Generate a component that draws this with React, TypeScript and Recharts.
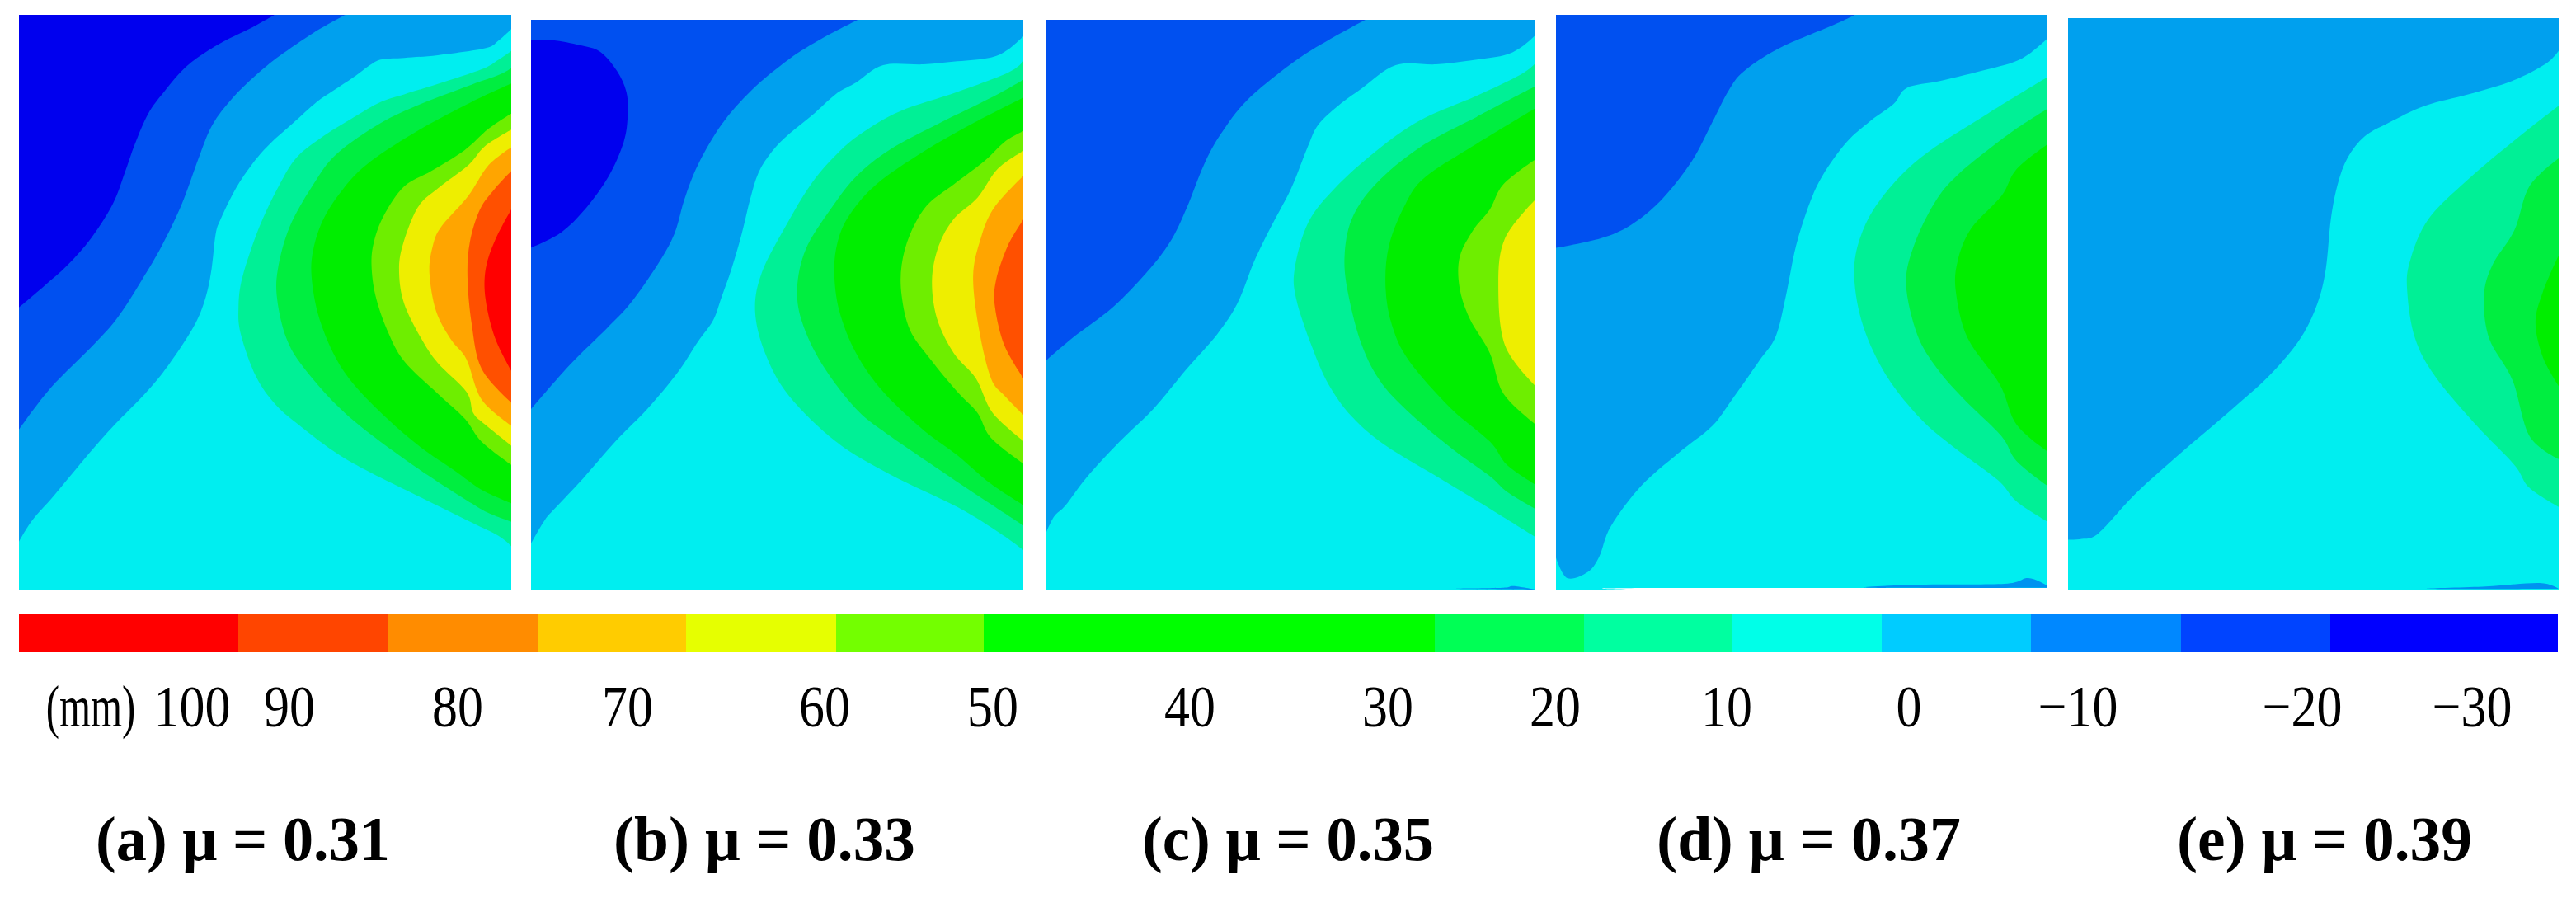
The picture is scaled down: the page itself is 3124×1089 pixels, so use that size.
import { Bar, BarChart, Scatter, ScatterChart, XAxis, YAxis } from "recharts";

// contour levels, low to high, same colours as the FE post-processor output
const LEVEL_COLORS: Record<string, string> = {
  base: "#00EEF0",
  m10: "#00A0EE",
  m20: "#0050F0",
  m30: "#0000EE",
  low: "#0092F0",
  p10: "#00F096",
  p20: "#00EE40",
  p30: "#00EE00",
  p50: "#6EEE00",
  p60: "#EEEE00",
  p70: "#FFA500",
  p80: "#FF5000",
  p90: "#FF0000",
  gap: "#FFFFFF",
};

type Pt = [number, number];
type Contour = { level: string; pts: Pt[] };

// contours are read in mesh units, painted back to front
const contoursA: Contour[] = [
  { level: "m10", pts: [[1518, 38], [1518, 75], [1480, 105], [1440, 125], [1300, 143], [1200, 150], [1140, 153], [1105, 165], [1050, 200], [990, 235], [940, 265], [870, 320], [800, 375], [750, 425], [700, 490], [655, 570], [640, 610], [628, 700], [610, 775], [575, 850], [500, 950], [430, 1025], [330, 1115], [250, 1195], [160, 1290], [95, 1355], [56, 1410], [56, 38]] },
  { level: "m20", pts: [[1025, 38], [930, 85], [830, 145], [760, 195], [690, 255], [630, 325], [590, 410], [540, 530], [480, 640], [420, 730], [350, 825], [280, 895], [150, 1010], [56, 1118], [56, 38]] },
  { level: "m30", pts: [[815, 38], [750, 70], [680, 100], [620, 130], [550, 175], [490, 235], [440, 295], [400, 375], [370, 450], [335, 530], [270, 620], [200, 690], [130, 745], [56, 800], [56, 38]] },
  { level: "p10", pts: [[1518, 132], [1480, 155], [1430, 180], [1300, 218], [1200, 245], [1130, 265], [1050, 305], [950, 360], [880, 410], [830, 480], [770, 590], [720, 720], [708, 800], [715, 870], [760, 980], [820, 1055], [900, 1115], [1000, 1180], [1100, 1230], [1250, 1295], [1400, 1360], [1480, 1395], [1518, 1422]] },
  { level: "p20", pts: [[1518, 177], [1480, 195], [1400, 220], [1250, 270], [1130, 320], [1000, 400], [930, 480], [860, 590], [825, 700], [823, 780], [850, 880], [900, 955], [1000, 1055], [1100, 1130], [1250, 1225], [1400, 1310], [1450, 1335], [1518, 1358]] },
  { level: "p30", pts: [[1518, 217], [1400, 265], [1250, 335], [1100, 420], [1020, 490], [960, 570], [930, 650], [925, 720], [945, 820], [990, 920], [1050, 1000], [1150, 1090], [1250, 1165], [1350, 1225], [1430, 1275], [1518, 1310]] },
  { level: "p50", pts: [[1518, 295], [1450, 335], [1380, 390], [1280, 445], [1200, 485], [1140, 560], [1110, 630], [1103, 690], [1115, 770], [1150, 860], [1200, 940], [1300, 1025], [1380, 1090], [1430, 1150], [1518, 1210]] },
  { level: "p60", pts: [[1518, 337], [1440, 380], [1390, 430], [1300, 490], [1240, 540], [1195, 640], [1185, 710], [1200, 790], [1250, 880], [1300, 945], [1385, 1020], [1405, 1075], [1440, 1105], [1518, 1160]] },
  { level: "p70", pts: [[1518, 383], [1450, 430], [1390, 510], [1310, 590], [1285, 640], [1275, 710], [1295, 810], [1340, 885], [1385, 935], [1430, 1040], [1518, 1108]] },
  { level: "p80", pts: [[1518, 445], [1470, 490], [1425, 545], [1395, 630], [1388, 720], [1400, 840], [1430, 960], [1518, 1048]] },
  { level: "p90", pts: [[1518, 545], [1470, 625], [1442, 700], [1442, 780], [1470, 880], [1518, 965]] },
];

const contoursB: Contour[] = [
  { level: "m10", pts: [[1496, 95], [1450, 130], [1400, 150], [1300, 160], [1200, 168], [1080, 170], [1000, 215], [940, 245], [870, 300], [800, 350], [750, 395], [710, 450], [685, 520], [660, 610], [630, 700], [600, 775], [575, 835], [530, 890], [470, 970], [380, 1065], [290, 1145], [190, 1245], [110, 1320], [75, 1355], [35, 1415], [35, 52], [1496, 52]] },
  { level: "m20", pts: [[1005, 52], [900, 100], [800, 155], [690, 235], [600, 325], [530, 430], [490, 520], [460, 610], [410, 690], [330, 790], [260, 855], [150, 950], [35, 1065], [35, 52]] },
  { level: "m30", pts: [[35, 105], [100, 105], [180, 118], [240, 135], [290, 185], [318, 240], [322, 300], [310, 370], [265, 460], [200, 540], [125, 605], [35, 645]] },
  { level: "p10", pts: [[1496, 160], [1450, 190], [1300, 240], [1130, 290], [1020, 345], [950, 395], [870, 475], [790, 590], [720, 710], [700, 810], [730, 920], [800, 1030], [940, 1150], [1100, 1235], [1300, 1320], [1430, 1390], [1496, 1432]] },
  { level: "p20", pts: [[1496, 208], [1400, 255], [1250, 320], [1100, 390], [1000, 460], [920, 550], [850, 650], [825, 750], [840, 840], [900, 950], [1000, 1065], [1100, 1135], [1250, 1225], [1360, 1290], [1496, 1368]] },
  { level: "p30", pts: [[1496, 255], [1350, 320], [1200, 395], [1060, 480], [980, 560], [945, 630], [935, 710], [950, 810], [1000, 920], [1080, 1020], [1200, 1120], [1300, 1185], [1400, 1260], [1496, 1315]] },
  { level: "p50", pts: [[1496, 342], [1440, 370], [1380, 420], [1290, 480], [1210, 535], [1160, 610], [1135, 690], [1135, 770], [1160, 860], [1220, 935], [1300, 1020], [1360, 1075], [1400, 1140], [1496, 1207]] },
  { level: "p60", pts: [[1496, 393], [1420, 440], [1360, 515], [1290, 570], [1245, 640], [1225, 730], [1240, 830], [1290, 920], [1355, 985], [1405, 1075], [1496, 1148]] },
  { level: "p70", pts: [[1496, 458], [1410, 540], [1370, 620], [1347, 720], [1365, 860], [1400, 985], [1440, 1030], [1496, 1080]] },
  { level: "p80", pts: [[1496, 572], [1450, 640], [1415, 730], [1412, 800], [1440, 900], [1496, 985]] },
];

const contoursC: Contour[] = [
  { level: "m10", pts: [[1475, 92], [1430, 125], [1380, 145], [1280, 158], [1180, 168], [1060, 170], [960, 230], [890, 275], [830, 325], [800, 380], [750, 490], [690, 590], [640, 680], [590, 790], [530, 870], [440, 960], [340, 1065], [240, 1150], [140, 1245], [80, 1315], [45, 1345], [20, 1390], [20, 52], [1475, 52]] },
  { level: "m20", pts: [[970, 52], [860, 105], [760, 160], [620, 260], [540, 350], [490, 430], [440, 540], [390, 630], [320, 710], [220, 800], [100, 880], [20, 940], [20, 52]] },
  { level: "p10", pts: [[1475, 165], [1430, 195], [1300, 250], [1130, 315], [1000, 395], [880, 490], [800, 580], [760, 700], [765, 780], [810, 900], [860, 1000], [930, 1085], [1030, 1160], [1200, 1250], [1350, 1330], [1475, 1398]] },
  { level: "p20", pts: [[1475, 225], [1300, 305], [1130, 385], [1000, 480], [930, 570], [908, 670], [920, 770], [960, 900], [1020, 1000], [1120, 1090], [1230, 1170], [1340, 1240], [1390, 1280], [1475, 1325]] },
  { level: "p30", pts: [[1475, 282], [1300, 375], [1150, 460], [1090, 530], [1040, 640], [1030, 750], [1050, 850], [1100, 940], [1220, 1060], [1340, 1150], [1390, 1210], [1475, 1262]] },
  { level: "p50", pts: [[1475, 415], [1380, 480], [1340, 545], [1290, 600], [1250, 670], [1250, 750], [1280, 830], [1340, 920], [1380, 1025], [1475, 1105]] },
  { level: "p60", pts: [[1475, 520], [1385, 620], [1365, 740], [1385, 900], [1475, 1005]] },
  { level: "low", pts: [[1240, 1533], [1380, 1530], [1410, 1526], [1475, 1535]] },
];

const contoursD: Contour[] = [
  { level: "m10", pts: [[1477, 100], [1430, 135], [1380, 160], [1300, 180], [1160, 210], [1060, 228], [1020, 270], [950, 315], [880, 370], [810, 455], [770, 530], [730, 640], [700, 770], [670, 875], [620, 940], [540, 1040], [480, 1110], [380, 1180], [270, 1265], [180, 1370], [145, 1450], [110, 1490], [50, 1505], [17, 1452], [17, 38], [1477, 38]] },
  { level: "m20", pts: [[905, 38], [840, 65], [680, 125], [575, 185], [530, 235], [480, 320], [420, 420], [330, 520], [240, 585], [150, 620], [17, 645], [17, 38]] },
  { level: "p10", pts: [[1477, 200], [1300, 295], [1100, 410], [980, 520], [920, 620], [903, 720], [930, 850], [1000, 980], [1100, 1090], [1200, 1165], [1330, 1250], [1385, 1305], [1477, 1358]] },
  { level: "p20", pts: [[1477, 283], [1360, 350], [1210, 455], [1140, 530], [1080, 640], [1057, 740], [1090, 870], [1150, 960], [1230, 1040], [1340, 1135], [1385, 1200], [1477, 1265]] },
  { level: "p30", pts: [[1477, 375], [1385, 440], [1340, 510], [1250, 595], [1210, 680], [1205, 760], [1240, 880], [1335, 1000], [1385, 1105], [1477, 1175]] },
  { level: "low", pts: [[945, 1530], [1100, 1522], [1350, 1520], [1420, 1505], [1477, 1525], [1477, 1530]] },
  { level: "gap", pts: [[240, 1531], [1477, 1531], [1477, 1535], [240, 1535]] },
];

const contoursE: Contour[] = [
  { level: "m10", pts: [[1517, 132], [1480, 165], [1380, 210], [1250, 245], [1120, 275], [1010, 320], [940, 355], [890, 410], [860, 480], [840, 570], [825, 700], [800, 790], [750, 880], [660, 975], [540, 1070], [400, 1175], [260, 1285], [150, 1388], [100, 1403], [59, 1405], [59, 47], [1517, 47]] },
  { level: "p10", pts: [[1517, 275], [1400, 355], [1250, 465], [1130, 570], [1075, 680], [1067, 760], [1090, 880], [1150, 980], [1270, 1105], [1385, 1210], [1430, 1270], [1517, 1320]] },
  { level: "p20", pts: [[1517, 412], [1430, 485], [1385, 600], [1320, 690], [1295, 770], [1310, 880], [1380, 990], [1430, 1135], [1517, 1195]] },
  { level: "p30", pts: [[1517, 665], [1470, 760], [1448, 840], [1470, 930], [1517, 1005]] },
  { level: "low", pts: [[1130, 1533], [1300, 1527], [1460, 1518], [1517, 1533]] },
];

// colour bar
const barWidths = [266, 182, 181, 180, 182, 179, 547, 181, 179, 182, 181, 182, 181, 276];
const barColors = ["#FF0000", "#FF4500", "#FF8C00", "#FFCC00", "#E6FF00", "#73FF00", "#00FF00", "#00FF55", "#00FFA0", "#00FFE8", "#00CCFF", "#0088FF", "#0044FF", "#0000FF"];
const tickLabels = ["(mm)", "100", "90", "80", "70", "60", "50", "40", "30", "20", "10", "0", "−10", "−20", "−30"];
const tickPositions = [87, 210, 328, 532, 738, 977, 1181, 1420, 1660, 1863, 2071, 2292, 2497, 2769, 2975];

const captions = ["(a) μ = 0.31", "(b) μ = 0.33", "(c) μ = 0.35", "(d) μ = 0.37", "(e) μ = 0.39"];
const captionX = [116, 744, 1385, 2009, 2640];
const captionW = [357, 366, 354, 369, 358];

const FONT = '"Liberation Serif", serif';

const panels = [
  { contours: contoursA, x: [56, 1518], y: [38, 1535], left: 23, top: 18, w: 597, h: 697 },
  { contours: contoursB, x: [35, 1496], y: [52, 1535], left: 644, top: 24, w: 597, h: 691 },
  { contours: contoursC, x: [20, 1475], y: [52, 1535], left: 1268, top: 24, w: 594, h: 691 },
  { contours: contoursD, x: [17, 1477], y: [38, 1535], left: 1887, top: 18, w: 596, h: 697 },
  { contours: contoursE, x: [59, 1517], y: [47, 1535], left: 2508, top: 22, w: 595, h: 693 },
];

const toPoints = (pts: Pt[]) => pts.map(([x, y]) => ({ x, y }));
const noMarker = () => <g />;

// closed Catmull-Rom path through the scaled points, sharp where a contour meets the panel edge
function smoothPath(pts: { x: number; y: number }[], w: number, h: number) {
  const onEdge = (p: { x: number; y: number }) => p.x < 0.5 || p.y < 0.5 || p.x > w - 0.5 || p.y > h - 0.5;
  const n = pts.length;
  let d = `M${pts[0].x},${pts[0].y}`;
  for (let i = 0; i < n; i++) {
    const p0 = pts[(i - 1 + n) % n];
    const p1 = pts[i];
    const p2 = pts[(i + 1) % n];
    const p3 = pts[(i + 2) % n];
    const c1 = onEdge(p1) ? p1 : { x: p1.x + (p2.x - p0.x) / 6, y: p1.y + (p2.y - p0.y) / 6 };
    const c2 = onEdge(p2) ? p2 : { x: p2.x - (p3.x - p1.x) / 6, y: p2.y - (p3.y - p1.y) / 6 };
    d += `C${c1.x},${c1.y} ${c2.x},${c2.y} ${p2.x},${p2.y}`;
  }
  return d + "Z";
}

function Panel({ p }: { p: (typeof panels)[number] }) {
  const [x0, x1] = p.x;
  const [y0, y1] = p.y;
  const frame: Pt[] = [[x0, y0], [x1, y0], [x1, y1], [x0, y1]];
  const layers: Contour[] = [{ level: "base", pts: frame }, ...p.contours];
  return (
    <div style={{ position: "absolute", left: p.left, top: p.top }}>
      <ScatterChart width={p.w} height={p.h} margin={{ top: 0, right: 0, bottom: 0, left: 0 }}>
        <XAxis type="number" dataKey="x" domain={[x0, x1]} hide />
        <YAxis type="number" dataKey="y" domain={[y0, y1]} reversed hide />
        {layers.map((c, i) => (
          <Scatter
            key={i}
            data={toPoints(c.pts)}
            line={(lp: any) => <path d={smoothPath(lp.points, p.w, p.h)} fill={LEVEL_COLORS[c.level]} stroke="none" />}
            shape={noMarker}
            isAnimationActive={false}
          />
        ))}
      </ScatterChart>
    </div>
  );
}

function BarTick({ x, y, index }: any) {
  const label = tickLabels[index];
  const squeeze = label === "(mm)" ? 0.68 : 0.86;
  return (
    <text
      transform={`translate(${x},${y + 90}) scale(${squeeze},1)`}
      textAnchor="middle"
      fontFamily={FONT}
      fontSize={72}
      fill="#000"
    >
      {label}
    </text>
  );
}

export default function App() {
  const row: Record<string, number> = {};
  barWidths.forEach((w, i) => (row[`b${i}`] = w));
  const total = barWidths.reduce((a, b) => a + b, 0);

  return (
    <div style={{ position: "absolute", left: 0, top: 0, width: 3124, height: 1089, background: "#fff", overflow: "hidden" }}>
      {panels.map((p, i) => (
        <Panel key={i} p={p} />
      ))}

      <div style={{ position: "absolute", left: 0, top: 745 }}>
        <BarChart
          width={3124}
          height={156}
          data={[row]}
          layout="vertical"
          barCategoryGap={0}
          margin={{ top: 0, right: 22, bottom: 0, left: 23 }}
        >
          <XAxis
            type="number"
            domain={[0, total]}
            ticks={tickPositions}
            interval={0}
            height={110}
            axisLine={false}
            tickLine={false}
            tickSize={0}
            tickMargin={0}
            tick={<BarTick />}
          />
          <YAxis type="category" hide />
          {barWidths.map((_, i) => (
            <Bar key={i} dataKey={`b${i}`} stackId="scale" fill={barColors[i]} isAnimationActive={false} />
          ))}
        </BarChart>
      </div>

      <svg width={3124} height={1089} style={{ position: "absolute", left: 0, top: 0, pointerEvents: "none" }}>
        {captions.map((c, i) => (
          <text
            key={c}
            x={captionX[i]}
            y={1043}
            fontFamily={FONT}
            fontWeight="bold"
            fontSize={76}
            fill="#000"
            textLength={captionW[i]}
            lengthAdjust="spacingAndGlyphs"
          >
            {c}
          </text>
        ))}
      </svg>
    </div>
  );
}
